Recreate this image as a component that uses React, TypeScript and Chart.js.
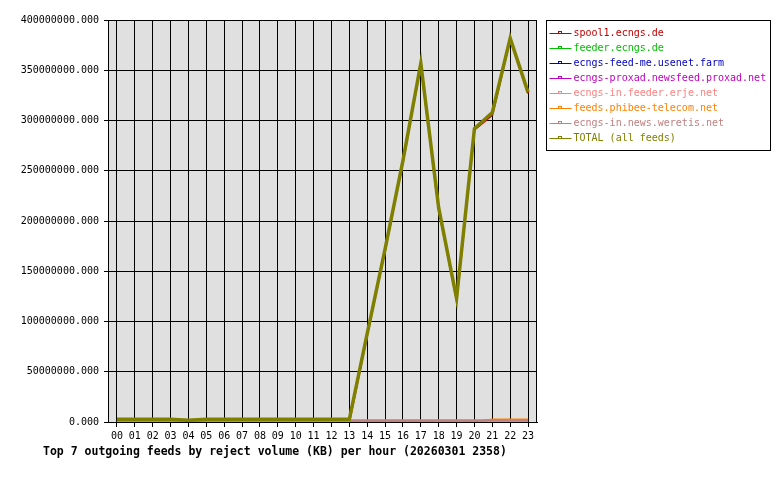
import { useEffect, useRef } from "react"
import { Chart, registerables } from "chart.js"

Chart.register(...registerables)

const hours = ["00", "01", "02", "03", "04", "05", "06", "07", "08", "09", "10", "11",
  "12", "13", "14", "15", "16", "17", "18", "19", "20", "21", "22", "23"]

const feedNames = [
  "spool1.ecngs.de",
  "feeder.ecngs.de",
  "ecngs-feed-me.usenet.farm",
  "ecngs-proxad.newsfeed.proxad.net",
  "ecngs-in.feeder.erje.net",
  "feeds.phibee-telecom.net",
  "ecngs-in.news.weretis.net",
  "TOTAL (all feeds)",
]

const feedColors = ["#c00000", "#00c000", "#0000c0", "#c000c0", "#ff8080", "#ff8000", "#c08080", "#808000"]

// reject volume in KB per hour
const spool1 = [0, 0, 0, 0, 0, 0, 0, 0, 0, 0, 0, 0, 0, 0,
  86800000, 170800000, 258800000, 355800000, 211800000, 121800000, 290800000, 305500000, 381000000, 327000000]
const feeder = [1000000, 1000000, 1000000, 1000000, 0, 1000000, 1000000, 1000000, 1000000, 1000000, 1000000, 1000000,
  1000000, 1000000, 0, 0, 0, 0, 0, 0, 0, 0, 0, 0]
const feedMe = [0, 0, 0, 0, 0, 0, 0, 0, 0, 0, 0, 0, 0, 0, 0, 0, 0, 0, 0, 0, 0, 0, 0, 0]
const proxad = [0, 0, 0, 0, 0, 0, 0, 0, 0, 0, 0, 0, 0, 0, 0, 0, 0, 0, 0, 0, 0, 0, 0, 0]
const erje = [0, 0, 0, 0, 0, 0, 0, 0, 0, 0, 0, 0, 0, 0, 0, 0, 0, 0, 0, 0, 0, 0, 0, 0]
const phibee = [0, 0, 0, 0, 0, 0, 0, 0, 0, 0, 0, 0, 0, 0, 0, 0, 0, 0, 0, 0, 0, 2500000, 2500000, 2500000]
const weretis = [1700000, 1700000, 1700000, 1700000, 1700000, 1700000, 1700000, 1700000, 1700000, 1700000, 1700000, 1700000,
  1700000, 1700000, 1700000, 1700000, 1700000, 1700000, 1700000, 1700000, 1700000, 1700000, 1700000, 1700000]
const total = [2700000, 2700000, 2700000, 2700000, 1700000, 2700000, 2700000, 2700000, 2700000, 2700000, 2700000, 2700000,
  2700000, 2700000, 88000000, 172000000, 260000000, 357000000, 213000000, 123000000, 292000000, 308000000, 382000000, 328000000]

const series = [spool1, feeder, feedMe, proxad, erje, phibee, weretis, total]

const chartTitle = "Top 7 outgoing feeds by reject volume (KB) per hour (20260301 2358)"
const mono = "'DejaVu Sans Mono', monospace"

const framePlugin = {
  id: "frame",
  beforeDraw(chart: Chart) {
    const { ctx, chartArea } = chart
    ctx.save()
    ctx.fillStyle = "#ffffff"
    ctx.fillRect(0, 0, chart.width, chart.height)
    ctx.fillStyle = "#e0e0e0"
    ctx.fillRect(chartArea.left, chartArea.top, chartArea.right - chartArea.left, chartArea.bottom - chartArea.top)
    ctx.restore()
  },
  afterDraw(chart: Chart) {
    const { ctx, chartArea } = chart
    ctx.save()
    // right edge of the plot
    ctx.strokeStyle = "#000"
    ctx.lineWidth = 1
    ctx.beginPath()
    ctx.moveTo(Math.round(chartArea.right) - 0.5, chartArea.top)
    ctx.lineTo(Math.round(chartArea.right) - 0.5, chartArea.bottom)
    ctx.stroke()

    // legend box
    const bx = chartArea.right + 9.5
    const by = 20.5
    ctx.fillStyle = "#fff"
    ctx.fillRect(bx, by, 224, 130)
    ctx.strokeRect(bx, by, 224, 130)
    ctx.font = `10px ${mono}`
    ctx.textBaseline = "middle"
    chart.data.datasets.forEach((ds, i) => {
      const y = Math.round(32.7 + i * 15.1) + 0.5
      const c = ds.borderColor as string
      ctx.strokeStyle = c
      ctx.beginPath()
      ctx.moveTo(bx + 3, y)
      ctx.lineTo(bx + 25, y)
      ctx.stroke()
      ctx.strokeRect(bx + 12, y - 2, 3, 2)
      ctx.fillStyle = c
      ctx.fillText(ds.label as string, bx + 27, y)
    })

    // caption
    ctx.fillStyle = "#000"
    ctx.font = `bold 11.5px ${mono}`
    ctx.fillText(chartTitle, 43, 452)
    ctx.restore()
  },
}

export default function App() {
  const chartRef = useRef<HTMLCanvasElement>(null)
  const chartInstance = useRef<Chart | null>(null)

  useEffect(() => {
    if (!chartRef.current) return
    if (chartInstance.current) chartInstance.current.destroy()
    const ctx = chartRef.current.getContext("2d")
    if (!ctx) return

    chartInstance.current = new Chart(ctx, {
      type: "line",
      data: {
        labels: hours,
        datasets: series.map((data, i) => ({
          label: feedNames[i],
          data,
          borderColor: feedColors[i],
          backgroundColor: feedColors[i],
          borderWidth: i === series.length - 1 ? 3.5 : 2,
          pointRadius: 0,
          tension: 0,
          fill: false,
          order: series.length - i,
        })),
      },
      options: {
        animation: false,
        responsive: false,
        devicePixelRatio: 1,
        layout: { padding: { top: 20, right: 243, left: 0, bottom: 0 } },
        plugins: {
          legend: { display: false },
          tooltip: { enabled: false },
        },
        scales: {
          x: {
            offset: true,
            afterFit: (s: any) => { s.height = 58 },
            grid: { color: "#000", lineWidth: 1, tickLength: 5, offset: false },
            border: { color: "#000", width: 1 },
            ticks: {
              color: "#000",
              font: { family: mono, size: 10 },
              padding: 3,
              maxRotation: 0,
              autoSkip: false,
            },
          },
          y: {
            min: 0,
            max: 400000000,
            afterFit: (s: any) => { s.width = 108 },
            grid: { color: "#000", lineWidth: 1, tickLength: 4 },
            border: { color: "#000", width: 1 },
            ticks: {
              stepSize: 50000000,
              color: "#000",
              font: { family: mono, size: 10 },
              padding: 5,
              callback: (v: any) => Number(v).toFixed(3),
            },
          },
        },
      },
      plugins: [framePlugin],
    })

    return () => {
      if (chartInstance.current) {
        chartInstance.current.destroy()
        chartInstance.current = null
      }
    }
  }, [])

  return (
    <div style={{ position: "fixed", left: 0, top: 0, width: 780, height: 480, background: "#fff" }}>
      <canvas ref={chartRef} width={780} height={480} style={{ width: 780, height: 480 }} />
    </div>
  )
}
